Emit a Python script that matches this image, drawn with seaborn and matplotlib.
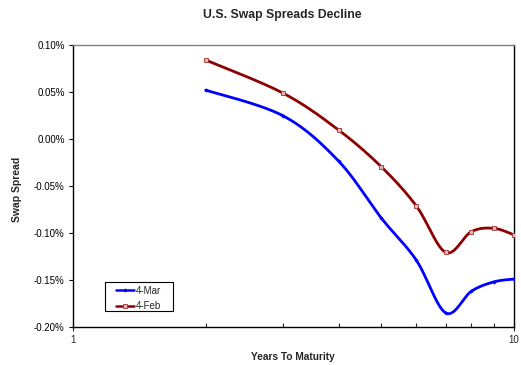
import numpy as np
import pandas as pd
import matplotlib
matplotlib.use("Agg")
import matplotlib.pyplot as plt
from matplotlib.lines import Line2D
from matplotlib.patches import Rectangle
from matplotlib.ticker import FixedLocator, FuncFormatter, NullFormatter
import seaborn as sns

# Swap spreads (percent) by years to maturity
maturity = [2, 3, 4, 5, 6, 7, 8, 9, 10]
spread_mar = [0.052, 0.0245, -0.0234, -0.084, -0.1287, -0.185, -0.162, -0.152, -0.149]
spread_feb = [0.084, 0.0486, 0.0096, -0.0295, -0.071, -0.1206, -0.0986, -0.095, -0.102]
series_names = ["4-Mar", "4-Feb"]
y_ticks = [0.10, 0.05, 0.00, -0.05, -0.10, -0.15, -0.20]
x_tick_labels = ["1", "10"]

sns.set_style("white")
plt.rcParams["font.family"] = ["Liberation Sans", "DejaVu Sans"]


def smooth(xs, ys, n=40):
    """Bezier smoothing (Catmull-Rom control points) in log10(x), y space."""
    px = np.log10(np.asarray(xs, float))
    py = np.asarray(ys, float)
    outx, outy = [], []
    m = len(px)
    for i in range(m - 1):
        p0 = (px[max(i - 1, 0)], py[max(i - 1, 0)])
        p1 = (px[i], py[i])
        p2 = (px[i + 1], py[i + 1])
        p3 = (px[min(i + 2, m - 1)], py[min(i + 2, m - 1)])
        c1 = (p1[0] + (p2[0] - p0[0]) / 6, p1[1] + (p2[1] - p0[1]) / 6)
        c2 = (p2[0] - (p3[0] - p1[0]) / 6, p2[1] - (p3[1] - p1[1]) / 6)
        t = np.linspace(0, 1, n, endpoint=(i == m - 2))
        a = (1 - t) ** 3
        b = 3 * (1 - t) ** 2 * t
        c = 3 * (1 - t) * t ** 2
        d = t ** 3
        outx.append(a * p1[0] + b * c1[0] + c * c2[0] + d * p2[0])
        outy.append(a * p1[1] + b * c1[1] + c * c2[1] + d * p2[1])
    return 10 ** np.concatenate(outx), np.concatenate(outy)


W, H = 521, 365
fig = plt.figure(figsize=(W / 100, H / 100), dpi=100)
ax = fig.add_axes([73 / W, (H - 327) / H, (514 - 73) / W, (327 - 45) / H])

styles = {
    "4-Mar": dict(color="#0000FF", marker="D", ms=1.6, mfc="#0000FF", mec="#0000FF"),
    "4-Feb": dict(color="#8B0000", marker="s", ms=2.2, mfc="#e0b8b8", mec="#a03030"),
}

for name, vals in zip(series_names, [spread_mar, spread_feb]):
    st = styles[name]
    sx, sy = smooth(maturity, vals)
    curve = pd.DataFrame({"x": sx, "y": sy})
    sns.lineplot(data=curve, x="x", y="y", ax=ax, color=st["color"], lw=2.0,
                 sort=False, estimator=None, legend=False)
    pts = pd.DataFrame({"x": maturity, "y": vals})
    ax.plot(pts["x"], pts["y"], ls="none", marker=st["marker"], ms=st["ms"],
            mfc=st["mfc"], mec=st["mec"], mew=0.6, zorder=4)

# legend entries, with the box drawn as its own rectangle
handles = [Line2D([], [], color=styles[n]["color"], lw=1.8, marker=styles[n]["marker"],
                  ms=styles[n]["ms"], mfc=styles[n]["mfc"], mec=styles[n]["mec"], mew=0.6)
           for n in series_names]
leg = ax.legend(handles, series_names, loc="upper left",
                bbox_to_anchor=(116 / W, 1 - 285.5 / H), bbox_transform=fig.transFigure,
                fontsize=7, frameon=False, handlelength=1.9, handletextpad=0.15,
                borderpad=0, labelspacing=0.6, borderaxespad=0)
leg.set_zorder(6)
ax.add_patch(Rectangle((105 / W, 1 - 311 / H), 68 / W, 29 / H,
                       transform=fig.transFigure, facecolor="white",
                       edgecolor="black", lw=0.8, zorder=5, clip_on=False))

ax.set_xscale("log")
ax.set_xlim(1, 10)
ax.set_ylim(-0.20, 0.10)
ax.xaxis.set_major_locator(FixedLocator([1, 10]))
ax.xaxis.set_major_formatter(FuncFormatter(lambda v, p: x_tick_labels[0] if v < 5 else x_tick_labels[1]))
ax.xaxis.set_minor_locator(FixedLocator(list(range(2, 10))))
ax.xaxis.set_minor_formatter(NullFormatter())
ax.yaxis.set_major_locator(FixedLocator(y_ticks))
ax.yaxis.set_major_formatter(FuncFormatter(lambda v, p: f"{v:.2f}%"))

ax.tick_params(axis="y", which="major", direction="out", length=3, width=0.8,
               labelsize=7, colors="black", pad=3, left=True)
ax.tick_params(axis="x", which="major", direction="inout", length=6, width=0.8,
               labelsize=7, pad=3, bottom=True)
ax.tick_params(axis="x", which="minor", direction="in", length=3, width=0.8, bottom=True)

for side in ["left", "bottom", "right"]:
    ax.spines[side].set_color("black")
    ax.spines[side].set_linewidth(1.0)
ax.spines["top"].set_color("#808080")
ax.spines["top"].set_linewidth(1.0)
ax.grid(False)

ax.set_xlabel("")
ax.set_ylabel("")
fig.text(282 / W, 1 - 15 / H, "U.S. Swap Spreads Decline", ha="center", va="center",
         fontsize=8.8, fontweight="bold")
fig.text(293 / W, 1 - 357 / H, "Years To Maturity", ha="center", va="center",
         fontsize=7.3, fontweight="bold")
fig.text(17 / W, 1 - 189 / H, "Swap Spread", ha="center", va="center",
         rotation=90, fontsize=7.5, fontweight="bold")

fig.savefig("out.png", dpi=100, facecolor="white")
